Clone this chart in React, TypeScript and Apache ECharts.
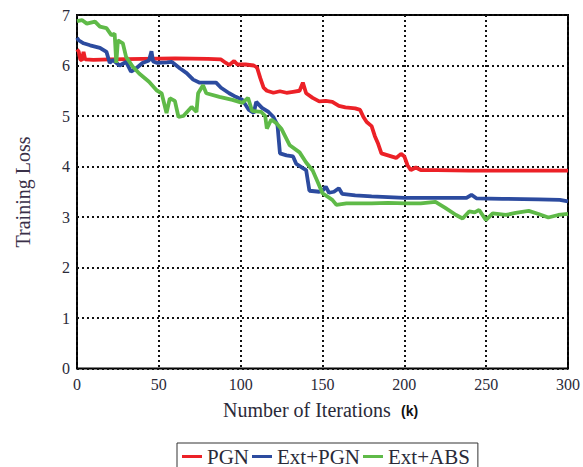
import React, { useEffect, useRef } from "react";
import * as echarts from "echarts";

const seriesNames = ["PGN", "Ext+PGN", "Ext+ABS"];
const xTicks = [0, 50, 100, 150, 200, 250, 300];
const yTicks = [0, 1, 2, 3, 4, 5, 6, 7];

const pgn: [number, number][] = [
  [0, 6.32], [1, 6.28], [2, 6.12], [3, 6.1], [4, 6.27], [5, 6.12], [10, 6.11], [20, 6.12],
  [40, 6.13], [60, 6.14], [80, 6.13], [88, 6.12], [91, 6.05], [93, 6.01], [96, 6.09], [98, 6.02],
  [103, 6.02], [108, 6.0], [110, 5.96], [112, 5.75], [114, 5.56], [116, 5.5], [120, 5.46],
  [124, 5.49], [128, 5.46], [132, 5.48], [136, 5.5], [138, 5.66], [140, 5.45], [144, 5.36],
  [148, 5.29], [152, 5.3], [156, 5.28], [160, 5.2], [164, 5.17], [170, 5.15], [173, 5.12],
  [175, 4.98], [177, 4.88], [180, 4.8], [182, 4.6], [184, 4.45], [186, 4.26], [190, 4.22],
  [195, 4.17], [198, 4.25], [200, 4.2], [202, 4.02], [204, 3.93], [207, 3.98], [210, 3.93],
  [220, 3.93], [240, 3.92], [270, 3.92], [300, 3.92],
];

const extPgn: [number, number][] = [
  [0, 6.55], [1, 6.5], [4, 6.44], [8, 6.4], [14, 6.35], [18, 6.27], [20, 6.05], [22, 6.11],
  [26, 6.0], [30, 6.07], [33, 5.88], [36, 5.94], [40, 6.05], [44, 6.1], [45.5, 6.28], [46.5, 6.08],
  [49, 6.05], [55, 6.06], [58, 6.07], [63, 5.94], [67, 5.85], [71, 5.72], [75, 5.66], [85, 5.66],
  [88, 5.56], [93, 5.45], [97, 5.38], [101, 5.32], [105, 5.12], [108, 5.06], [109.5, 5.28],
  [113, 5.16], [117, 5.08], [120, 4.98], [122.5, 4.82], [124, 4.26], [128, 4.22], [132, 4.2],
  [134, 4.05], [138, 3.97], [140, 3.93], [142, 3.52], [148, 3.5], [150, 3.52], [152, 3.6],
  [154, 3.48], [157, 3.5], [160, 3.57], [162, 3.46], [170, 3.43], [180, 3.41], [200, 3.38],
  [220, 3.38], [238, 3.38], [241, 3.44], [244, 3.37], [260, 3.36], [282, 3.35], [295, 3.34],
  [300, 3.31],
];

const extAbs: [number, number][] = [
  [0, 6.88], [3, 6.9], [6, 6.83], [11, 6.87], [14, 6.77], [18, 6.74], [21, 6.6], [23, 6.63],
  [24, 6.05], [25, 6.5], [28, 6.44], [30, 6.17], [34, 5.98], [38, 5.84], [44, 5.68], [48.6, 5.51],
  [51.7, 5.45], [54.7, 5.06], [56.7, 5.35], [59.8, 5.3], [62, 4.98], [65, 5.0], [70, 5.18],
  [73, 5.08], [74, 5.45], [77, 5.61], [79, 5.45], [87, 5.38], [95, 5.32], [101, 5.26],
  [104.5, 5.36], [107, 5.1], [112.6, 5.08], [115, 5.0], [116, 4.75], [118.7, 4.93], [122, 4.85],
  [125, 4.74], [130, 4.42], [136, 4.28], [140, 4.08], [144, 3.92], [147, 3.7], [150, 3.47],
  [156, 3.34], [158.5, 3.24], [164.6, 3.27], [170, 3.27], [180, 3.27], [190, 3.28], [201, 3.27],
  [210, 3.27], [219, 3.3], [225, 3.18], [231.6, 3.04], [235.6, 2.97], [239.6, 3.11], [243, 3.09],
  [245.7, 3.14], [249.8, 2.94], [254, 3.07], [262, 3.04], [268, 3.08], [276, 3.12], [282, 3.06],
  [288, 2.99], [294, 3.04], [300, 3.06],
];

const colors = ["#ec2127", "#2c4b9f", "#5fba48"];
const serif = "'Liberation Serif', 'Times New Roman', serif";
const textColor = "#2a2a38";

export default function App() {
  const ref = useRef<HTMLDivElement>(null);
  useEffect(() => {
    if (!ref.current) return;
    const chart = echarts.init(ref.current, null, { renderer: "svg" });
    const dataSets = [pgn, extPgn, extAbs];
    chart.setOption({
      animation: false,
      grid: {
        left: 77,
        right: 14,
        top: 15,
        bottom: 98.5,
        show: true,
        borderColor: "#000",
        borderWidth: 2,
        backgroundColor: "transparent",
      },
      legend: {
        data: seriesNames,
        left: 177,
        top: 443,
        icon: "rect",
        itemWidth: 20,
        itemHeight: 3,
        itemGap: 3,
        padding: [3, 8, 6, 5],
        borderColor: "#333",
        borderWidth: 1,
        textStyle: { fontFamily: serif, fontSize: 21, color: textColor },
      },
      xAxis: {
        type: "value",
        min: xTicks[0],
        max: xTicks[xTicks.length - 1],
        interval: 50,
        axisLine: { show: false },
        axisTick: { show: false },
        axisLabel: { margin: 8, fontFamily: serif, fontSize: 16, color: textColor },
        splitLine: { show: true, lineStyle: { color: "#111", width: 2, type: [2, 3] } },
      },
      yAxis: {
        type: "value",
        min: yTicks[0],
        max: yTicks[yTicks.length - 1],
        interval: 1,
        axisLine: { show: false },
        axisTick: { show: false },
        axisLabel: { margin: 7, fontFamily: serif, fontSize: 16, color: textColor },
        splitLine: { show: true, lineStyle: { color: "#111", width: 2, type: [2, 3] } },
      },
      graphic: [
        {
          type: "text",
          x: 23,
          y: 192,
          rotation: Math.PI / 2,
          style: {
            text: "Training Loss",
            fontFamily: serif,
            fontSize: 20,
            fill: "#3a3048",
            textAlign: "center",
            textVerticalAlign: "middle",
          },
        },
        {
          type: "text",
          x: 223,
          y: 410,
          style: {
            text: "Number of Iterations",
            fontFamily: serif,
            fontSize: 20,
            fill: textColor,
            textAlign: "left",
            textVerticalAlign: "middle",
          },
        },
        {
          type: "text",
          x: 401,
          y: 411,
          style: {
            text: "(k)",
            fontFamily: "'Liberation Sans', Arial, sans-serif",
            fontWeight: "bold",
            fontSize: 14,
            fill: "#111",
            textAlign: "left",
            textVerticalAlign: "middle",
          },
        },
      ],
      series: seriesNames.map((name, i) => ({
        name,
        type: "line",
        data: dataSets[i],
        showSymbol: false,
        symbol: "none",
        smooth: false,
        lineStyle: { color: colors[i], width: 3.8 },
        itemStyle: { color: colors[i] },
      })),
    });
    return () => chart.dispose();
  }, []);
  return (
    <div
      ref={ref}
      style={{ position: "absolute", left: 0, top: 0, width: 583, height: 467 }}
    />
  );
}
